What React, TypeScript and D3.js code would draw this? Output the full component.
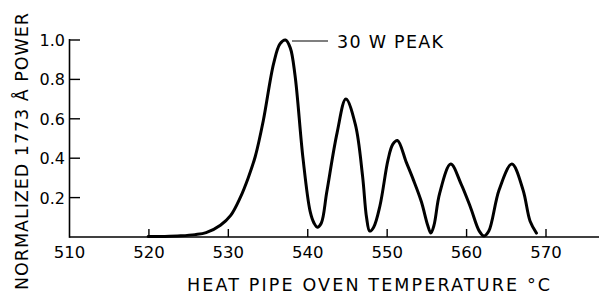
import React from "react";
import * as d3 from "d3";

const temps = [519.9, 522, 524, 525.8, 527.2, 529, 530.3, 531.5, 532.5, 533.4, 534.4, 535.7, 536.5, 537.2, 537.8, 538.4, 539.4, 540.3, 540.8, 541.2, 541.7, 542.4, 543.7, 544.8, 546.0, 546.9, 547.4, 547.8, 548.3, 549.1, 550.1, 550.7, 551.3, 552.4, 553.3, 554.3, 555.1, 555.5, 555.9, 556.6, 558.0, 559.3, 560.5, 561.6, 562.2, 562.8, 564.1, 565.7, 567.1, 568.0, 568.8];
const power = [0.002, 0.003, 0.006, 0.012, 0.022, 0.06, 0.11, 0.2, 0.3, 0.41, 0.59, 0.88, 0.98, 1.0, 0.96, 0.82, 0.4, 0.13, 0.07, 0.05, 0.07, 0.23, 0.53, 0.7, 0.57, 0.31, 0.1, 0.03, 0.05, 0.16, 0.39, 0.47, 0.49, 0.38, 0.29, 0.18, 0.06, 0.02, 0.06, 0.22, 0.37, 0.27, 0.15, 0.03, 0.005, 0.03, 0.24, 0.37, 0.24, 0.08, 0.02];
const xTicks = [510, 520, 530, 540, 550, 560, 570];
const yTicks = [0.2, 0.4, 0.6, 0.8, 1.0];
const xTitle = "HEAT PIPE OVEN TEMPERATURE °C";
const yTitle = "NORMALIZED 1773 Å POWER";
const annotation = "30 W PEAK";

export default function App() {
  const x = d3.scaleLinear().domain([510, 570]).range([69.5, 546]);
  const y = d3.scaleLinear().domain([0, 1]).range([237, 40]);
  const data = temps.map((t, i) => [t, power[i]] as [number, number]);
  const line = d3
    .line<[number, number]>()
    .x((d) => x(d[0]))
    .y((d) => Math.min(y(d[1]), 237))
    .curve(d3.curveCatmullRom.alpha(0.5));
  const font = "'DejaVu Sans', 'Liberation Sans', sans-serif";
  return (
    <svg
      width={601}
      height={295}
      style={{ position: "absolute", left: 0, top: 0, background: "#fff" }}
    >
      <rect width={601} height={295} fill="#fff" />
      <line x1={69.5} x2={599} y1={237} y2={237} stroke="#000" strokeWidth={1.6} />
      <line x1={69.5} x2={69.5} y1={39} y2={237.8} stroke="#000" strokeWidth={1.6} />
      {xTicks.slice(1).map((t) => (
        <line key={t} x1={x(t)} x2={x(t)} y1={237} y2={229} stroke="#000" strokeWidth={1.4} />
      ))}
      {yTicks.map((t) => (
        <line key={t} x1={69.5} x2={80} y1={y(t)} y2={y(t)} stroke="#000" strokeWidth={1.4} />
      ))}
      {xTicks.map((t) => (
        <text key={t} x={x(t)} y={258} textAnchor="middle" fontFamily={font} fontSize={16.5} fill="#000">
          {t}
        </text>
      ))}
      {yTicks.map((t) => (
        <text key={t} x={65} y={y(t) + 6} textAnchor="end" fontFamily={font} fontSize={16} fill="#000">
          {t.toFixed(1)}
        </text>
      ))}
      <text x={187} y={291} fontFamily={font} fontSize={17.5} textLength={363} lengthAdjust="spacing" fill="#000">
        {xTitle}
      </text>
      <text
        transform="translate(28,290) rotate(-90)"
        fontFamily={font}
        fontSize={17.5}
        textLength={277}
        lengthAdjust="spacing"
        fill="#000"
      >
        {yTitle}
      </text>
      <path d={line(data) || ""} fill="none" stroke="#000" strokeWidth={3} strokeLinejoin="round" strokeLinecap="round" />
      <line x1={292} x2={328} y1={41} y2={41} stroke="#000" strokeWidth={1.2} />
      <text x={337} y={48} fontFamily={font} fontSize={17.5} textLength={106} lengthAdjust="spacing" fill="#000">
        {annotation}
      </text>
    </svg>
  );
}
